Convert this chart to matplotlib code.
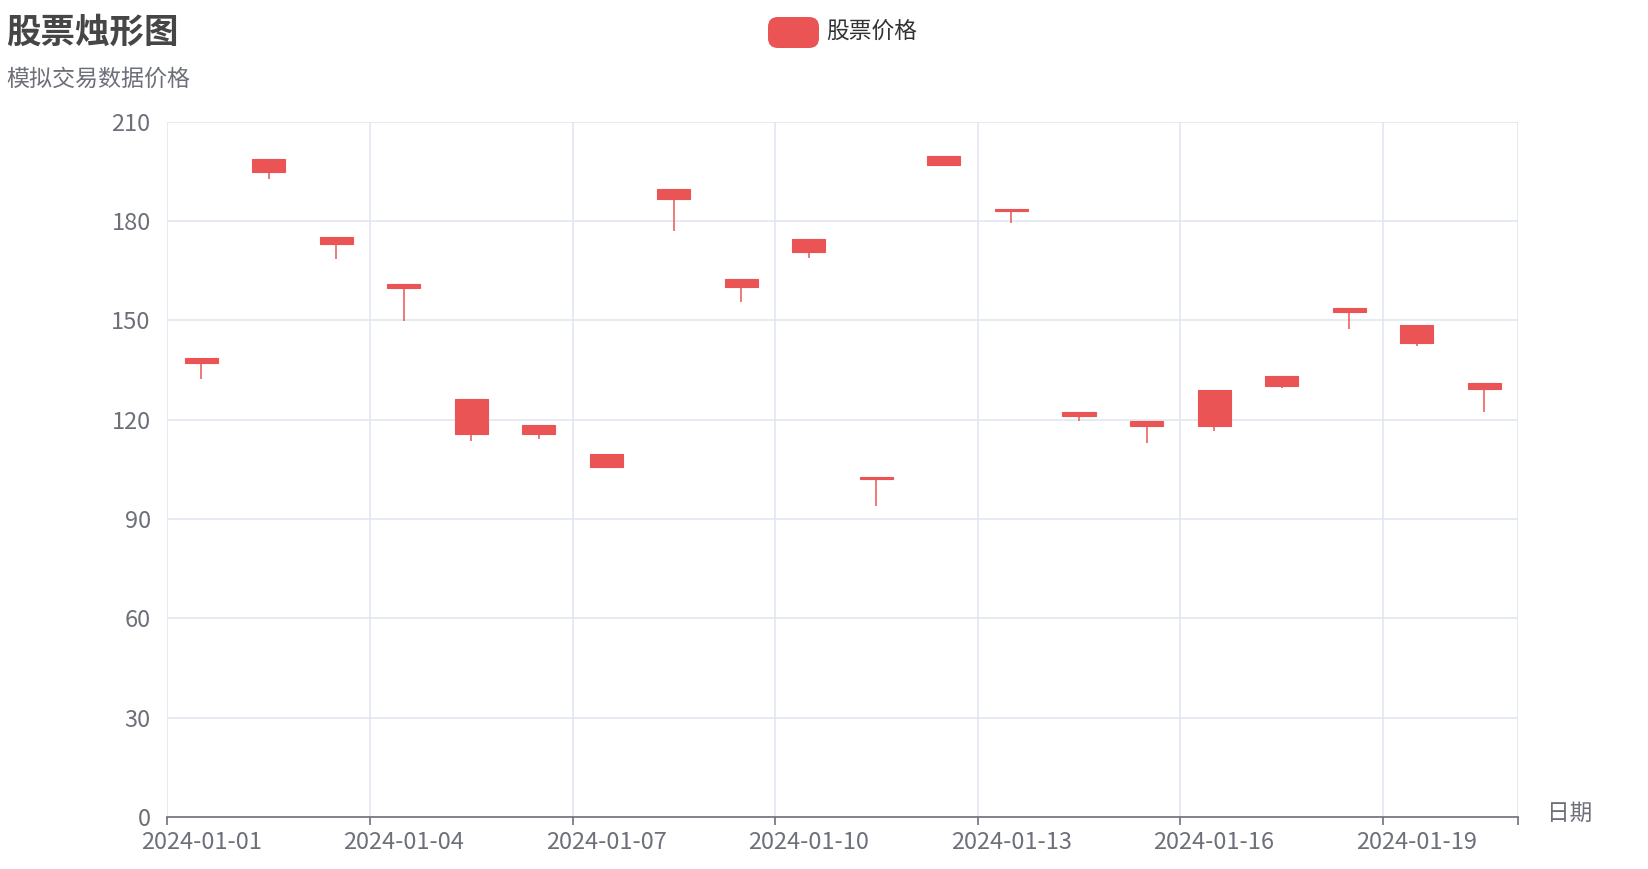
import matplotlib
matplotlib.use('Agg')
import matplotlib.pyplot as plt
from matplotlib.patches import FancyBboxPatch
import numpy as np

plt.rcParams['font.family'] = ['Noto Sans CJK SC', 'DejaVu Sans']

# candlestick data (all rising days)
dates = ['2024-01-%02d' % d for d in range(1, 21)]
opens = [137.2, 194.9, 173.1, 159.8, 115.6, 115.6, 105.6, 186.6, 160.0, 170.5,
         102.0, 196.8, 182.9, 121.1, 118.1, 118.2, 130.3, 152.4, 143.1, 129.2]
closes = [138.7, 198.6, 175.3, 160.9, 126.3, 118.4, 109.5, 189.6, 162.4, 174.5,
          102.8, 199.7, 183.6, 122.4, 119.7, 128.9, 133.2, 153.8, 148.6, 131.1]
lows = [132.3, 192.7, 168.5, 149.9, 113.6, 114.1, 105.6, 177.1, 155.4, 168.7,
        94.0, 196.8, 179.3, 119.7, 112.9, 116.7, 129.5, 147.3, 142.3, 122.2]
highs = [138.7, 198.6, 175.3, 160.9, 126.3, 118.4, 109.5, 189.6, 162.4, 174.5,
         102.8, 199.7, 183.6, 122.4, 119.7, 128.9, 133.2, 153.8, 148.6, 131.1]
yticks = [0, 30, 60, 90, 120, 150, 180, 210]

up_color = '#eb5454'
grid_color = '#e0e6f1'
label_color = '#6e7079'

W, H = 1648, 869
fig = plt.figure(figsize=(W / 100, H / 100), dpi=100)
ax = fig.add_axes([167.3 / W, 1 - 817 / H, (1518 - 167.3) / W, (817 - 121.7) / H])

x = np.arange(len(dates))
o = np.array(opens)
c = np.array(closes)
ax.vlines(x, lows, highs, color=up_color, linewidth=1.1, zorder=3)
ax.bar(x, c - o, bottom=o, width=0.49, color=up_color, edgecolor=up_color,
       linewidth=0.8, zorder=4)

ax.set_xlim(-0.5, len(dates) - 0.5)
ax.set_ylim(0, 210)

# x axis: labels at category centres, ticks/grid at boundaries
lab_idx = list(range(0, len(dates), 3))
ax.set_xticks(lab_idx)
ax.set_xticklabels([dates[i] for i in lab_idx])
bounds = [i - 0.5 for i in lab_idx] + [len(dates) - 0.5]
ax.set_xticks(bounds, minor=True)
ax.tick_params(axis='x', which='major', length=0, pad=10, labelsize=17, labelcolor=label_color)
ax.tick_params(axis='x', which='minor', length=6, width=1.2, color=label_color)
ax.grid(True, axis='x', which='minor', color=grid_color, linewidth=1.2, zorder=0)

ax.set_yticks(yticks)
ax.tick_params(axis='y', length=0, pad=12, labelsize=17, labelcolor=label_color)
for t in ax.get_yticklabels():
    t.set_verticalalignment('center_baseline')
ax.grid(True, axis='y', which='major', color=grid_color, linewidth=1.2, zorder=0)
ax.set_axisbelow(True)

for s in ['top', 'right', 'left']:
    ax.spines[s].set_visible(False)
ax.spines['bottom'].set_color(label_color)
ax.spines['bottom'].set_linewidth(1.2)

# axis name
fig.text(1547 / W, 1 - 813 / H, '日期', fontsize=16.3, color=label_color, ha='left', va='center')

# title and subtitle
fig.text(6 / W, 1 - 32 / H, '股票烛形图', fontsize=24.8, fontweight='bold', color='#464646',
         ha='left', va='center')
fig.text(6 / W, 1 - 79 / H, '模拟交易数据价格', fontsize=16.6, color=label_color,
         ha='left', va='center')

# legend
leg = FancyBboxPatch((768 / W, 1 - 48 / H), 51 / W, 31 / H,
                     boxstyle='round,pad=0,rounding_size=0.006', transform=fig.transFigure,
                     facecolor=up_color, edgecolor='none', mutation_aspect=W / H)
fig.patches.append(leg)
fig.text(826 / W, 1 - 32 / H, '股票价格', fontsize=16.4, color='#333333', ha='left', va='center')

fig.savefig('out.png', dpi=100)
